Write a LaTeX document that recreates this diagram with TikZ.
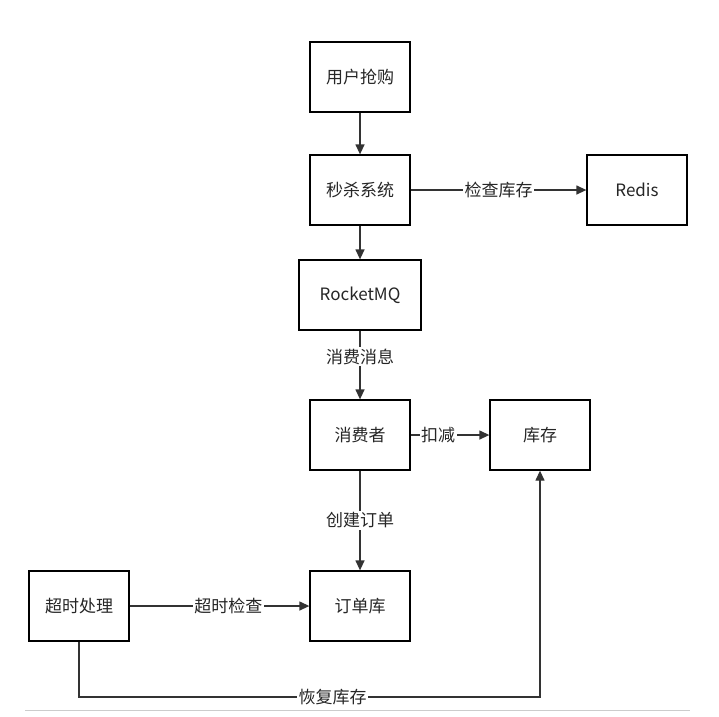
\documentclass[tikz,border=0pt]{standalone}
\usepackage{fontspec}
\setmainfont{Noto Sans CJK SC}
\usetikzlibrary{arrows.meta}
\begin{document}
\begin{tikzpicture}[x=1pt,y=-1pt,
  box/.style={draw=black,line width=1.3pt,minimum width=100pt,minimum height=70pt,inner sep=0pt,font=\fontsize{17}{20}\selectfont,text=black!85},
  conn/.style={draw=black!80,line width=1.3pt,-{Triangle[length=10pt,width=9pt]}},
  lab/.style={fill=white,inner sep=1.5pt,font=\fontsize{17}{20}\selectfont,text=black!85}]
\useasboundingbox[fill=white] (0,0) rectangle (719,716);
\node[box] (buy) at (360,77) {用户抢购};
\node[box] (sys) at (360,190) {秒杀系统};
\node[box] (redis) at (637,190) {Redis};
\node[box,minimum width=122pt] (mq) at (360,295) {RocketMQ};
\node[box] (cons) at (360,435) {消费者};
\node[box] (stock) at (540,435) {库存};
\node[box] (order) at (360,606) {订单库};
\node[box] (timeout) at (79,606) {超时处理};
\coordinate (c1) at (79,697);
\coordinate (c2) at (540,697);
\draw[conn] (buy) -- (sys);
\draw[conn] (sys) -- node[lab]{检查库存} (redis);
\draw[conn] (sys) -- (mq);
\draw[conn] (mq) -- node[lab,pos=0.38]{消费消息} (cons);
\draw[conn] (cons) -- node[lab,pos=0.35]{扣减} (stock);
\draw[conn] (cons) -- node[lab,pos=0.5]{创建订单} (order);
\draw[conn] (timeout) -- node[lab,pos=0.55]{超时检查} (order);
\draw[conn] (timeout.south) -- (c1) -- node[lab,pos=0.55]{恢复库存} (c2) -- (stock.south);
\draw[black!20,line width=0.6pt] (25,710) -- (690,710);
\end{tikzpicture}
\end{document}
